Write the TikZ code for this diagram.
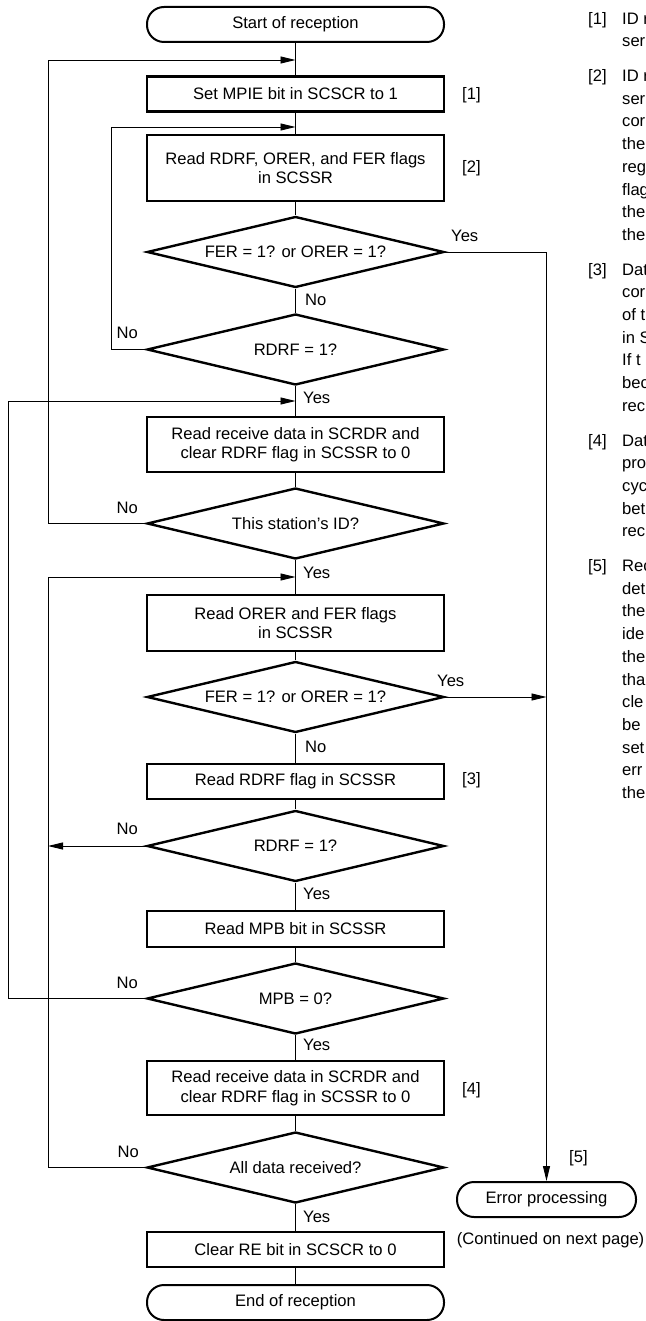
\documentclass[tikz,border=0pt]{standalone}
\usepackage{fontspec}
\setmainfont{Liberation Sans}
\usetikzlibrary{arrows.meta,shapes.geometric}
\begin{document}
\begin{tikzpicture}[x=1pt,y=-1pt,
  font=\fontsize{16.6}{19.5}\selectfont,
  proc/.style={draw,line width=2.4pt,rectangle,minimum width=297pt,inner sep=0pt,align=center},
  dec/.style={draw,line width=2.4pt,diamond,shape aspect=4.1,minimum width=297pt,minimum height=71pt,inner sep=0pt,align=center},
  term/.style={draw,line width=2pt,rectangle,rounded corners=17pt,minimum height=35pt,inner sep=0pt},
  conn/.style={line width=0.9pt},
  arr/.style={conn,-{Triangle[length=15pt,width=7pt]}},
  lbl/.style={inner sep=0pt},
  coltext/.style={inner sep=0pt,anchor=mid west},
]
\useasboundingbox (0,0) rectangle (645,1321);

% main column
\node[term,minimum width=297pt] (start) at (295.5,24.5) {Start of reception};
\node[proc,minimum height=35pt] (b1) at (295.5,94) {Set MPIE bit in SCSCR to 1};
\node[proc,minimum height=66pt] (b2) at (295.5,168) {Read RDRF, ORER, and FER flags\\in SCSSR};
\node[dec] (d1) at (295.5,252) {FER = 1? or ORER = 1?};
\node[dec] (d2) at (295.5,349.5) {RDRF = 1?};
\node[proc,minimum height=55pt] (b3) at (295.5,444.5) {Read receive data in SCRDR and\\clear RDRF flag in SCSSR to 0};
\node[dec] (d3) at (295.5,523.5) {This station’s ID?};
\node[proc,minimum height=56pt] (b4) at (295.5,623) {Read ORER and FER flags\\in SCSSR};
\node[dec] (d4) at (295.5,697) {FER = 1? or ORER = 1?};
\node[proc,minimum height=35pt] (b5) at (295.5,781.5) {Read RDRF flag in SCSSR};
\node[dec] (d5) at (295.5,846) {RDRF = 1?};
\node[proc,minimum height=36pt] (b6) at (295.5,929) {Read MPB bit in SCSSR};
\node[dec] (d6) at (295.5,998.5) {MPB = 0?};
\node[proc,minimum height=54pt] (b7) at (295.5,1088) {Read receive data in SCRDR and\\clear RDRF flag in SCSSR to 0};
\node[dec] (d7) at (295.5,1167.5) {All data received?};
\node[proc,minimum height=35pt] (b8) at (295.5,1249.5) {Clear RE bit in SCSCR to 0};
\node[term,minimum width=297pt] (end) at (295.5,1302.5) {End of reception};
\node[term,minimum width=179pt] (err) at (546.5,1199.5) {Error processing};

% junctions and loop corners
\coordinate (j1) at (295.5,60);
\coordinate (j2) at (295.5,127);
\coordinate (j3) at (295.5,401);
\coordinate (j4) at (295.5,577);
\coordinate (c1) at (48,60);
\coordinate (c2) at (111,127);
\coordinate (c3) at (8,401);
\coordinate (c4) at (48,577);

% main flow lines
\draw[conn] (start.south) -- (b1.north);
\draw[conn] (b1.south) -- (b2.north);
\draw[conn] (b2.south) -- (d1.north);
\draw[conn] (d1.south) -- (d2.north);
\draw[conn] (d2.south) -- (b3.north);
\draw[conn] (b3.south) -- (d3.north);
\draw[conn] (d3.south) -- (b4.north);
\draw[conn] (b4.south) -- (d4.north);
\draw[conn] (d4.south) -- (b5.north);
\draw[conn] (b5.south) -- (d5.north);
\draw[conn] (d5.south) -- (b6.north);
\draw[conn] (b6.south) -- (d6.north);
\draw[conn] (d6.south) -- (b7.north);
\draw[conn] (b7.south) -- (d7.north);
\draw[conn] (d7.south) -- (b8.north);
\draw[conn] (b8.south) -- (end.north);

% loops
\draw[arr] (d3.west) -| (c1) -- (j1);
\draw[arr] (d2.west) -| (c2) -- (j2);
\draw[arr] (d6.west) -| (c3) -- (j3);
\draw[arr] (d7.west) -| (c4) -- (j4);
\draw[arr] (d5.west) -- (d5.west -| c4);
\draw[arr] (d1.east) -| (err.north);
\draw[arr] (d4.east) -- (d4.east -| err.north);

% Yes / No labels
\node[lbl,anchor=west] (y1) at (451,236) {Yes};
\node[lbl,anchor=west] (n1) at (305,300) {No};
\node[lbl,anchor=east] (n2) at (138,333) {No};
\node[lbl,anchor=west] (y2) at (303,398) {Yes};
\node[lbl,anchor=east] (n3) at (138,508) {No};
\node[lbl,anchor=west] (y3) at (303,573) {Yes};
\node[lbl,anchor=west] (y4) at (437,681) {Yes};
\node[lbl,anchor=west] (n4) at (305,747) {No};
\node[lbl,anchor=east] (n5) at (138,829) {No};
\node[lbl,anchor=west] (y5) at (303,894) {Yes};
\node[lbl,anchor=east] (n6) at (138,983) {No};
\node[lbl,anchor=west] (y6) at (303,1045) {Yes};
\node[lbl,anchor=east] (n7) at (139,1152) {No};
\node[lbl,anchor=west] (y7) at (303,1217) {Yes};

% step numbers
\node[lbl,anchor=west] (s1) at (462,95) {[1]};
\node[lbl,anchor=west] (s2) at (462,168) {[2]};
\node[lbl,anchor=west] (s3) at (462,780) {[3]};
\node[lbl,anchor=west] (s4) at (462,1090) {[4]};
\node[lbl,anchor=west] (s5) at (569,1158) {[5]};

\node[lbl,anchor=east] (cont) at (644.5,1240) {(Continued on next page)};

\begin{scope}
\clip (0,0) rectangle (645,1321);
% notes column (cut at the right edge)
\foreach \n/\y [count=\k] in {1/21.5,2/78.9,3/272.5,4/443.4,5/568.9}
  \node[coltext] (num\k) at (588,\y) {[\n]};
\foreach \t/\y [count=\i] in {{ID r}/21.5,{ser}/44.2,
  {ID r}/78.9,{ser}/101.6,{cor}/124.3,{the}/147.0,{reg}/169.7,{flag}/192.4,{the}/215.1,{the}/237.8,
  {Dat}/272.5,{cor}/295.2,{of t}/317.9,{in S}/340.6,{If t}/363.3,{bec}/386.0,{rec}/408.7,
  {Dat}/443.4,{pro}/466.1,{cyc}/488.8,{bet}/511.5,{rec}/534.2,
  {Rec}/568.9,{det}/591.6,{the}/614.3,{ide}/637.0,{the}/659.7,{tha}/682.4,{cle}/705.1,{be}/727.8,{set}/750.5,{err}/773.2,{the}/795.9}
  \node[coltext] (t\i) at (622,\y) {\t};
\end{scope}
\end{tikzpicture}
\end{document}
